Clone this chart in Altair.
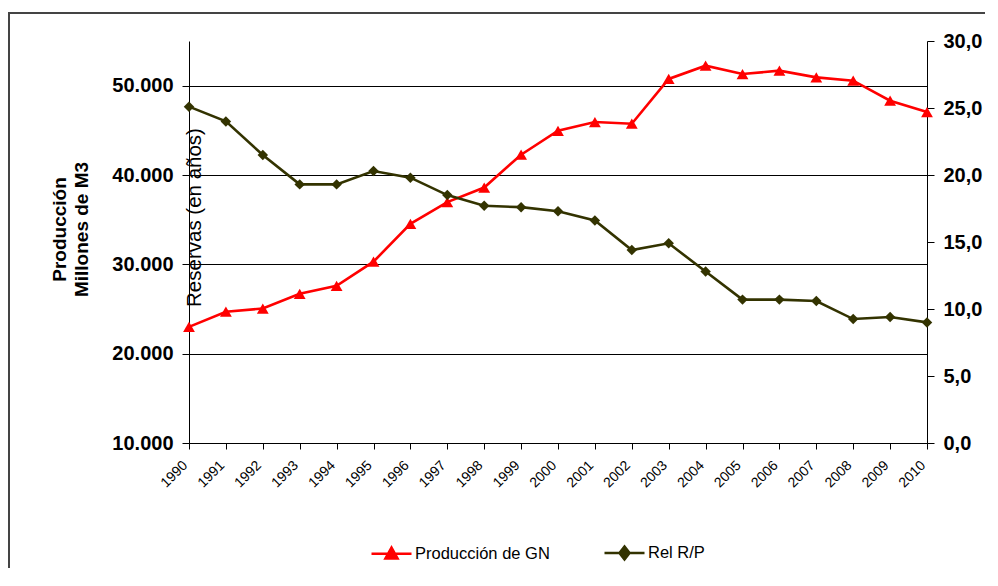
import altair as alt
import pandas as pd

years = [str(y) for y in range(1990, 2011)]
produccion = [23000, 24700, 25050, 26700, 27600, 30300, 34540, 36970, 38600, 42270,
              44950, 45930, 45740, 50750, 52240, 51300, 51680, 50930, 50560, 48320, 47050]
rel_rp = [25.1, 24.0, 21.5, 19.3, 19.3, 20.3, 19.8, 18.5, 17.7, 17.6,
          17.3, 16.6, 14.4, 14.9, 12.8, 10.7, 10.7, 10.6, 9.25, 9.4, 9.0]
series_names = ["Producción de GN", "Rel R/P"]
series_colors = ["#FF0000", "#333300"]
left_ticks = [10000, 20000, 30000, 40000, 50000]
right_ticks = [0, 5, 10, 15, 20, 25, 30]

df = pd.DataFrame({"year": years, "prod": produccion, "rp": rel_rp})

SANS = "Liberation Sans, Arial, sans-serif"

x_enc = alt.X(
    "year:O",
    scale=alt.Scale(type="point", padding=0),
    axis=alt.Axis(
        title=None, labelAngle=315, labelAlign="right", labelBaseline="middle",
        labelFont=SANS, labelFontSize=14, labelColor="black", labelPadding=14,
        labelOffset=-4,
        tickColor="black", tickSize=6, domainColor="black", grid=False,
    ),
)

y_left = alt.Y(
    "prod:Q",
    scale=alt.Scale(domain=[10000, 55000], nice=False, zero=False),
    axis=alt.Axis(
        orient="left", values=left_ticks, grid=True, gridColor="black", gridWidth=1,
        labelExpr="replace(format(datum.value, ',.0f'), ',', '.')",
        labelFont=SANS, labelFontSize=20, labelFontWeight="bold", labelColor="black",
        labelPadding=9, tickColor="black", tickSize=7, domainColor="black",
        title=["Producción", "Millones de M3"], titleFont=SANS, titleFontSize=19,
        titleFontWeight="bold", titleColor="black", titleAngle=270,
        titleAlign="center", titleBaseline="middle", titleLineHeight=22,
        titleX=-130, titleY=188,
    ),
)

y_right = alt.Y(
    "rp:Q",
    scale=alt.Scale(domain=[0, 30], nice=False),
    axis=alt.Axis(
        orient="right", values=right_ticks, grid=False,
        labelExpr="replace(format(datum.value, '.1f'), '.', ',')",
        labelFont=SANS, labelFontSize=20, labelFontWeight="bold", labelColor="black",
        labelPadding=9, tickColor="black", tickSize=7, domainColor="black",
        title="Reservas (en años)", titleFont=SANS, titleFontSize=20.5,
        titleFontWeight="normal", titleColor="black", titleAngle=270,
        titleAlign="center", titleBaseline="middle",
        titleX=-733, titleY=176,
    ),
)

base = alt.Chart(df)

prod_line = base.mark_line(color=series_colors[0], strokeWidth=2.6).encode(x=x_enc, y=y_left)
prod_pts = base.mark_point(shape="triangle-up", filled=True, color=series_colors[0],
                           size=140, opacity=1).encode(x=x_enc, y=y_left)
rp_line = base.mark_line(color=series_colors[1], strokeWidth=2.6).encode(x=x_enc, y=y_right)
rp_pts = base.mark_point(shape="diamond", filled=True, color=series_colors[1],
                         size=110, opacity=1).encode(x=x_enc, y=y_right)

left = alt.layer(prod_line, prod_pts)
right = alt.layer(rp_line, rp_pts)

tri = "M-1,0H1M0,-0.3L0.3,0.24L-0.3,0.24Z"
dia = "M-1,0H1M0,-0.32L0.25,0L0,0.32L-0.25,0Z"
legend_df = pd.DataFrame({"series": series_names})
leg = alt.Legend(title=None)
legend_layer = alt.Chart(legend_df).mark_point(filled=True, opacity=1).encode(
    shape=alt.Shape("series:N", scale=alt.Scale(domain=series_names, range=[tri, dia]), legend=leg),
    fill=alt.Fill("series:N", scale=alt.Scale(domain=series_names, range=series_colors), legend=leg),
    stroke=alt.Stroke("series:N", scale=alt.Scale(domain=series_names, range=series_colors), legend=leg),
).transform_filter("false")

frame = alt.Chart(pd.DataFrame({"a": [0]})).mark_rect(
    filled=False, stroke="#444444", strokeWidth=2
).encode(x=alt.value(-180), x2=alt.value(900), y=alt.value(-28), y2=alt.value(700))

chart = alt.layer(frame, left, right, legend_layer).resolve_scale(
    y="independent"
).properties(
    width=738, height=402,
    padding={"left": 181, "top": 33, "right": 58, "bottom": 125},
    autosize=alt.AutoSizeParams(type="none"),
).configure_view(stroke=None).configure_legend(
    orient="none", legendX=181, legendY=490, direction="horizontal",
    symbolSize=1600, symbolStrokeWidth=2.6, labelFont=SANS, labelFontSize=16.5,
    labelColor="black", labelOffset=2, columnPadding=49, padding=0,
)

chart.save("out.html", embed_options={"renderer": "svg", "actions": False})
